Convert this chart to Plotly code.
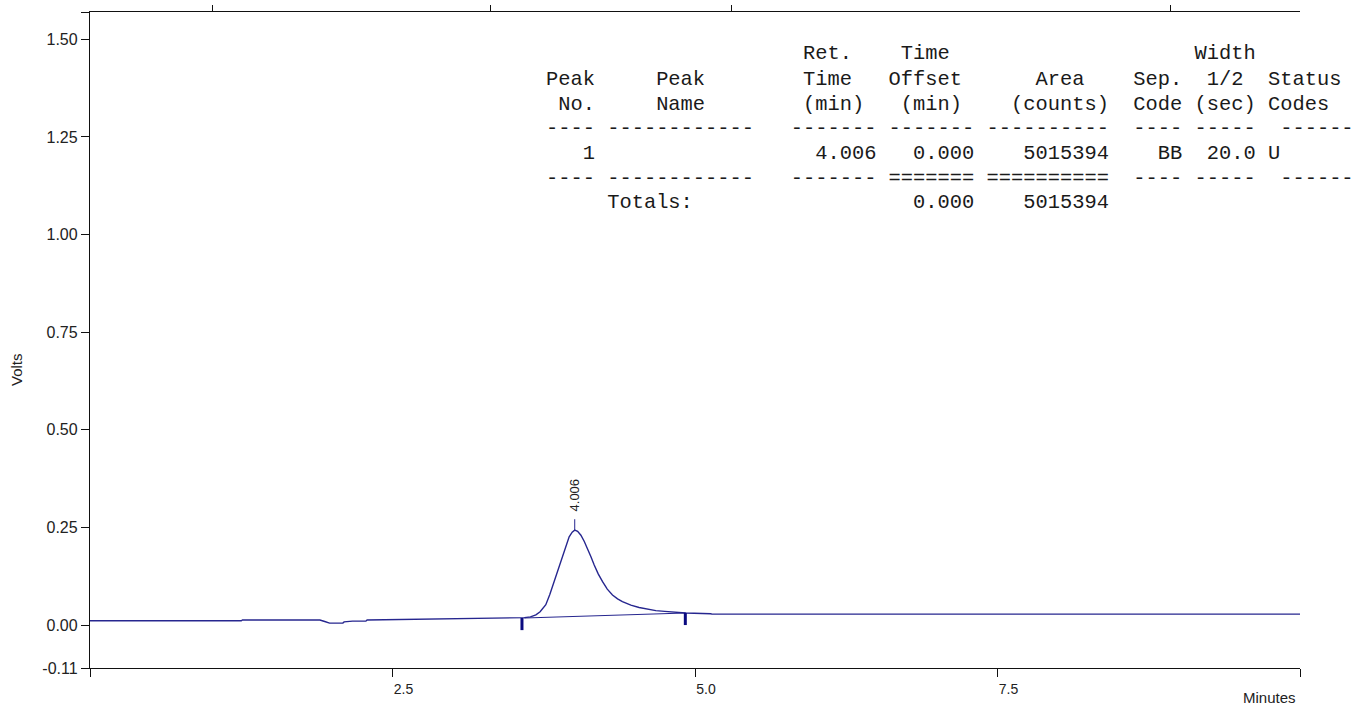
import plotly.graph_objects as go

# ---- data ----
time_min = [0.0, 1.25, 1.26, 1.90, 1.94, 1.98, 2.09, 2.10, 2.17, 2.28, 2.29, 2.8, 3.3, 3.55,
            3.59, 3.64, 3.685, 3.72, 3.767, 3.80, 3.836, 3.87, 3.905, 3.935, 3.96, 3.985,
            4.006, 4.03, 4.057, 4.085, 4.112, 4.14, 4.167, 4.20, 4.236, 4.275, 4.318, 4.36,
            4.40, 4.47, 4.538, 4.60, 4.676, 4.75, 4.813, 4.868, 4.923, 5.13, 5.14, 10.0]
volts = [0.011, 0.011, 0.013, 0.013, 0.009, 0.005, 0.005, 0.008, 0.010, 0.010, 0.013, 0.015, 0.016, 0.017,
         0.019, 0.021, 0.026, 0.034, 0.052, 0.078, 0.111, 0.145, 0.179, 0.206, 0.226, 0.238,
         0.243, 0.240, 0.230, 0.214, 0.196, 0.175, 0.154, 0.131, 0.111, 0.092, 0.077, 0.067,
         0.060, 0.051, 0.045, 0.041, 0.037, 0.035, 0.033, 0.032, 0.031, 0.029, 0.028, 0.028]

baseline_t = [3.59, 4.923]
baseline_v = [0.018, 0.031]

peak_rt = 4.006
peak_height = 0.243
peak_label = "4.006"
peak_start = 3.57
peak_end = 4.92
start_mark_v = [0.018, -0.013]
end_mark_v = [0.031, 0.000]

event_times = [1.01, 3.31, 5.30, 8.93]

y_tickvals = [-0.11, 0.00, 0.25, 0.50, 0.75, 1.00, 1.25, 1.50, 1.57]
y_ticktext = ["-0.11", "0.00", "0.25", "0.50", "0.75", "1.00", "1.25", "1.50", ""]
x_tickvals = [0.0, 2.5, 5.0, 7.5, 10.0]
x_ticktext = ["", "2.5", "5.0", "7.5", ""]

table_rows = [
    "                     Ret.    Time                    Width",
    "Peak     Peak        Time   Offset      Area    Sep.  1/2  Status",
    " No.     Name        (min)   (min)    (counts)  Code (sec) Codes",
    "---- ------------   ------- ------- ----------  ---- -----  ------",
    "   1                  4.006   0.000    5015394    BB  20.0 U",
    "---- ------------   ------- ======= ==========  ---- -----  ------",
    "     Totals:                  0.000    5015394",
]

LINE = "#26268f"
MARK = "#0a0a80"

fig = go.Figure()
fig.add_trace(go.Scatter(x=time_min, y=volts, mode="lines",
                         line=dict(color=LINE, width=1.4), hoverinfo="skip"))
fig.add_trace(go.Scatter(x=baseline_t, y=baseline_v, mode="lines",
                         line=dict(color=LINE, width=1.1), hoverinfo="skip"))
fig.add_trace(go.Scatter(x=[peak_rt, peak_rt], y=[peak_height, peak_height + 0.028], mode="lines",
                         line=dict(color=LINE, width=1), hoverinfo="skip"))
fig.add_trace(go.Scatter(x=[peak_start, peak_start], y=start_mark_v, mode="lines",
                         line=dict(color=MARK, width=3), hoverinfo="skip"))
fig.add_trace(go.Scatter(x=[peak_end, peak_end], y=end_mark_v, mode="lines",
                         line=dict(color=MARK, width=3), hoverinfo="skip"))
# invisible trace to activate top axis
fig.add_trace(go.Scatter(x=[0, 10], y=[0, 0], xaxis="x2", mode="lines",
                         line=dict(width=0), opacity=0, hoverinfo="skip"))

W, H = 1362, 709
L, R, T, B = 90, 62, 12, 41
pw, ph = W - L - R, H - T - B


def px_x(x):
    return (x - L) / pw


def px_y(y):
    return (H - B - y) / ph


annotations = []
row_y = [54, 79, 104, 128, 153, 178, 202]
for txt, yy in zip(table_rows, row_y):
    annotations.append(dict(
        text=txt.replace(" ", "\u00a0"), xref="paper", yref="paper",
        x=px_x(545), y=px_y(yy), xanchor="left", yanchor="middle", showarrow=False,
        font=dict(family="Liberation Mono, Courier New, monospace", size=20.4, color="#1a1a1a"),
        borderpad=0))

annotations.append(dict(text=peak_label, x=peak_rt, y=peak_height + 0.028, xref="x", yref="y",
                        textangle=-90, xanchor="center", yanchor="bottom", yshift=6,
                        showarrow=False, font=dict(family="Liberation Sans, Arial", size=13, color="#222")))
annotations.append(dict(text="Minutes", xref="paper", yref="paper", x=px_x(1297), y=px_y(707),
                        xanchor="right", yanchor="bottom", showarrow=False, borderpad=0,
                        font=dict(family="Liberation Sans, Arial", size=15, color="#222")))
annotations.append(dict(text="Volts", xref="paper", yref="paper", x=px_x(17), y=px_y(370),
                        xanchor="center", yanchor="middle", textangle=-90, showarrow=False,
                        font=dict(family="Liberation Sans, Arial", size=15, color="#222")))

fig.update_layout(
    width=W, height=H, margin=dict(l=L, r=R, t=T, b=B, autoexpand=False),
    paper_bgcolor="white", plot_bgcolor="white", showlegend=False,
    font=dict(family="Liberation Sans, Arial", size=14, color="#222"),
    xaxis=dict(range=[0, 10], showgrid=False, zeroline=False, showline=True, linecolor="#111",
               linewidth=1.3, ticks="outside", ticklen=8, tickcolor="#111", tickwidth=1.3,
               tickvals=x_tickvals, ticktext=x_ticktext, ticklabelshift=11, automargin=False,
               tickfont=dict(size=14, color="#222")),
    xaxis2=dict(range=[0, 10], overlaying="x", side="top", showgrid=False, zeroline=False,
                showline=True, linecolor="#111", linewidth=1.3, ticks="outside", ticklen=6,
                tickcolor="#111", tickvals=event_times, showticklabels=False, automargin=False),
    yaxis=dict(range=[-0.11, 1.57], showgrid=False, zeroline=False, showline=True,
               linecolor="#111", linewidth=1.3, ticks="outside", ticklen=8, tickcolor="#111",
               tickwidth=1.3, tickvals=y_tickvals, ticktext=y_ticktext, automargin=False,
               tickfont=dict(size=16, color="#222")),
    annotations=annotations,
)

fig.write_html("out.html")
